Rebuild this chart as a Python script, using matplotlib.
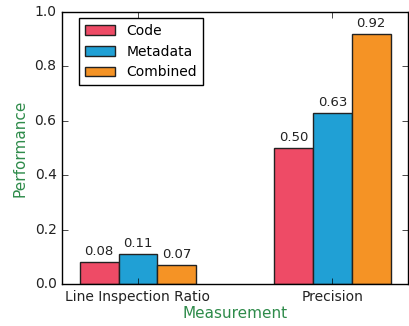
import matplotlib
matplotlib.use("Agg")
import matplotlib.pyplot as plt
import numpy as np

categories = ["Line Inspection Ratio", "Precision"]
series_names = ["Code", "Metadata", "Combined"]
code = [0.08, 0.50]
metadata = [0.11, 0.63]
combined = [0.07, 0.92]
colors = ["#EE4B66", "#20A0D5", "#F59325"]

plt.style.use("classic")
fig = plt.figure(figsize=(4.09, 3.26), dpi=100, facecolor="white")
ax = fig.add_axes([0.152, 0.129, 0.846, 0.834])

x = np.arange(len(categories))
w = 0.2
for i, (vals, name, c) in enumerate(zip([code, metadata, combined], series_names, colors)):
    bars = ax.bar(x + (i - 1) * w, vals, w, color=c, edgecolor="#222222", linewidth=1, label=name, align="center")
    for b, v in zip(bars, vals):
        ax.text(b.get_x() + b.get_width() / 2, v + 0.015, f"{v:.2f}", ha="center", va="bottom", fontsize=9.5, color="#222222")

ax.set_xlim(-0.39, 1.39)
ax.set_ylim(0, 1.0)
ax.set_xticks(x)
ax.set_xticklabels(categories, fontsize=10)
ax.set_yticks([0, 0.2, 0.4, 0.6, 0.8, 1.0])
ax.set_yticklabels(["0.0", "0.2", "0.4", "0.6", "0.8", "1.0"], fontsize=10)
ax.set_xlabel("Measurement", color="#2E8B4A", fontsize=11, labelpad=2)
ax.set_ylabel("Performance", color="#2E8B4A", fontsize=11)
ax.tick_params(labelcolor="#222222")
leg = ax.legend(loc="upper left", bbox_to_anchor=(0.049, 0.978), borderaxespad=0, fontsize=10, fancybox=False, framealpha=1, handlelength=2.2)
fig.savefig("out.png", dpi=100, facecolor="white")
